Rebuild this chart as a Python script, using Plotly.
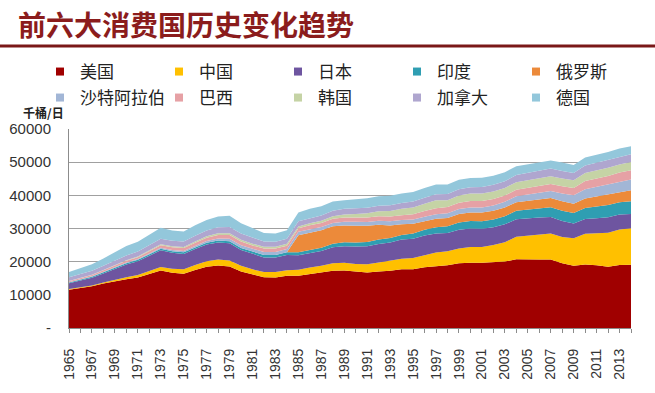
import plotly.graph_objects as go

years = list(range(1965, 2015))

us = [11522,12100,12567,13405,14153,14710,15223,16381,17308,16653,16322,17461,18431,18847,18513,17056,16058,15296,15231,15726,
      15726,16281,16665,17283,17325,16988,16714,17033,17237,17718,17725,18309,18621,18917,19519,19701,19649,19761,20033,20732,
      20802,20687,20680,19490,18771,19180,18882,18490,18961,19035]
china = [216,250,260,290,400,560,750,870,1100,1200,1380,1500,1700,1800,1850,1690,1630,1600,1630,1700,
         1800,1950,2070,2250,2360,2320,2500,2750,3050,3130,3360,3700,4150,4230,4480,4700,4810,5230,5800,6750,
         6950,7440,7800,7940,8280,9250,9800,10230,10730,11060]
japan = [1720,1970,2360,2770,3250,3870,4170,4500,5000,4860,4620,4840,5010,5120,5190,4770,4600,4380,4400,4590,
         4380,4430,4480,4790,5000,5300,5450,5580,5500,5800,5820,5860,5750,5530,5650,5580,5440,5360,5450,5270,
         5330,5190,5010,4850,4420,4440,4440,4690,4530,4300]
india = [250,270,290,320,350,380,400,430,460,460,480,500,540,590,620,640,680,740,770,830,
         900,950,1010,1090,1140,1200,1230,1290,1330,1410,1580,1720,1840,2000,2180,2260,2290,2370,2420,2570,
         2570,2690,2940,3080,3240,3320,3490,3690,3730,3850]
russia = [0,0,0,0,0,0,0,0,0,0,0,0,0,0,0,0,0,0,0,0,
          5190,5210,5240,5230,5090,5040,4900,4460,3820,3200,2940,2620,2560,2490,2540,2580,2600,2620,2630,2620,
          2640,2740,2740,2860,2780,2880,3090,3120,3130,3300]
saudi = [110,130,150,170,190,210,230,260,300,340,390,460,560,650,720,800,870,880,900,950,
         1000,1000,1010,1050,1100,1150,1200,1200,1250,1280,1300,1350,1400,1450,1480,1540,1560,1600,1700,1800,
         1950,2050,2150,2350,2500,2800,2850,3000,3050,3200]
brazil = [310,340,370,420,470,520,580,660,780,850,900,960,1000,1070,1150,1140,1060,1050,1010,1020,
          1070,1170,1220,1250,1300,1330,1350,1370,1420,1490,1600,1720,1820,1900,1920,1930,1960,1950,1900,1930,
          1960,1980,2080,2200,2210,2460,2530,2620,2750,2840]
korea = [30,40,60,100,140,190,220,250,290,300,320,360,420,500,540,540,530,530,570,590,
         560,600,650,750,880,1050,1250,1530,1700,1900,2020,2180,2360,1970,2150,2230,2240,2290,2300,2280,
         2310,2300,2370,2290,2330,2370,2390,2460,2450,2460]
canada = [1110,1180,1230,1300,1370,1450,1500,1600,1700,1680,1700,1720,1750,1800,1880,1870,1760,1580,1480,1480,
          1530,1560,1590,1690,1740,1740,1660,1680,1690,1730,1770,1810,1860,1880,1920,1940,1960,2000,2040,2170,
          2230,2220,2320,2290,2190,2300,2370,2390,2380,2370]
germany = [1640,1830,1950,2200,2490,2830,2950,3180,3300,3050,2950,3160,3120,3240,3350,3050,2800,2600,2500,2600,
           2700,2800,2740,2730,2600,2700,2850,2850,2900,2860,2880,2920,2910,2930,2830,2750,2800,2710,2680,2660,
           2620,2630,2400,2520,2420,2440,2370,2360,2410,2370]

names = ["美国", "中国", "日本", "印度", "俄罗斯", "沙特阿拉伯", "巴西", "韩国", "加拿大", "德国"]
series = [us, china, japan, india, russia, saudi, brazil, korea, canada, germany]
colors = ["#A00000", "#FFC000", "#6E55A0", "#2F9EB2", "#EC8A3A",
          "#A2B6D6", "#E6A1A5", "#C5D3A5", "#AFA6CF", "#93C7DB"]

y_ticks = [0, 10000, 20000, 30000, 40000, 50000, 60000]
y_ticktext = ["-", "10000", "20000", "30000", "40000", "50000", "60000"]

W, H = 655, 393
ml, mr, mt, mb = 69, 24, 129, 65
pw, ph = W - ml - mr, H - mt - mb

def px_x(p):
    return (p - ml) / pw

def px_y(p):
    return (H - mb - p) / ph

fig = go.Figure()
for name, vals, col in zip(names, series, colors):
    fig.add_trace(go.Scatter(
        x=years, y=vals, name=name, mode="lines", stackgroup="one",
        line=dict(width=0, color=col), fillcolor=col, showlegend=False,
    ))

for i, (name, col) in enumerate(zip(names, colors)):
    fig.add_trace(go.Scatter(
        x=[None], y=[None], name=name, mode="markers",
        marker=dict(symbol="square", size=8, color=col),
        legend="legend" if i < 5 else "legend2", showlegend=True,
    ))

legend_common = dict(
    orientation="h", xanchor="left", yanchor="middle", traceorder="normal",
    font=dict(family="Noto Sans CJK SC", size=17, color="#222222"),
    entrywidth=74, entrywidthmode="pixels", bgcolor="rgba(0,0,0,0)",
    itemclick=False, itemdoubleclick=False,
)

fig.update_layout(
    width=W, height=H,
    margin=dict(l=ml, r=mr, t=mt, b=mb, autoexpand=False),
    paper_bgcolor="white", plot_bgcolor="white",
    legend=dict(x=px_x(40), y=px_y(72), **legend_common),
    legend2=dict(x=px_x(40), y=px_y(98), **legend_common),
    xaxis=dict(
        range=[1965, 2014], tickmode="linear", tick0=1965, dtick=2,
        tickangle=-90, ticks="outside", ticklen=4, tickcolor="#8C8C8C",
        showline=True, linecolor="#8C8C8C", linewidth=1, showgrid=False, zeroline=False,
        tickfont=dict(family="Liberation Sans", size=14, color="#333333"),
        minor=dict(dtick=1, tick0=1965, ticks="outside", ticklen=4, tickcolor="#8C8C8C"),
        ticklabelstandoff=10,
    ),
    yaxis=dict(
        range=[0, 60000], tickmode="array", tickvals=y_ticks, ticktext=y_ticktext,
        showgrid=True, gridcolor="#A0A0A0", gridwidth=1,
        showline=True, linecolor="#8C8C8C", linewidth=1, zeroline=False, ticks="",
        tickfont=dict(family="Liberation Sans", size=15, color="#333333"),
        ticklabelstandoff=14,
    ),
    annotations=[
        dict(text="前六大消费国历史变化趋势", xref="paper", yref="paper",
             x=px_x(16), y=px_y(24), xanchor="left", yanchor="middle", showarrow=False,
             font=dict(family="Noto Sans CJK SC", size=28, color="#8B1C1C", weight="bold")),
        dict(text="千桶/日", xref="paper", yref="paper",
             x=px_x(21), y=px_y(112), xanchor="left", yanchor="middle", showarrow=False,
             font=dict(family="Noto Sans CJK SC", size=12, color="#222222", weight="bold")),
    ],
    shapes=[
        dict(type="line", xref="paper", yref="paper", x0=px_x(0), x1=px_x(W),
             y0=px_y(46), y1=px_y(46), line=dict(color="#7A1818", width=3)),
    ],
)

fig.write_html("out.html", config={"displayModeBar": False},
               post_script="document.body.style.margin='0px';")
